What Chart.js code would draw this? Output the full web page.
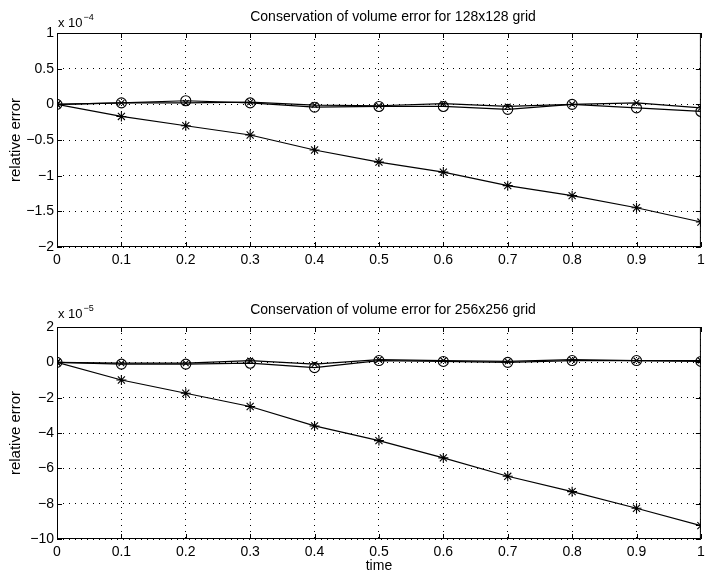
<!DOCTYPE html>
<html>
<head>
<meta charset="utf-8">
<script src="https://cdn.jsdelivr.net/npm/chart.js@4/dist/chart.umd.min.js"></script>
<style>
  html, body { margin: 0; padding: 0; background: #fff; }
  .wrap { position: relative; width: 707px; }
  canvas { display: block; }
</style>
</head>
<body>
<div class="wrap" style="height:287px"><canvas id="topChart"></canvas></div>
<div class="wrap" style="height:288px"><canvas id="bottomChart"></canvas></div>
<script>
// time samples
const times = [0, 0.1, 0.2, 0.3, 0.4, 0.5, 0.6, 0.7, 0.8, 0.9, 1.0];

// 128x128 grid, values in units of 1e-4
const starTop   = [0, -0.17, -0.30, -0.43, -0.64, -0.81, -0.95, -1.14, -1.28, -1.45, -1.65];
const circleTop = [0, 0.02, 0.05, 0.02, -0.04, -0.03, -0.03, -0.07, 0.00, -0.05, -0.10];
const crossTop  = [0, 0.02, 0.02, 0.03, -0.01, -0.02, 0.01, -0.03, 0.00, 0.02, -0.05];

// 256x256 grid, values in units of 1e-5
const starBottom   = [0, -1.0, -1.75, -2.5, -3.6, -4.43, -5.41, -6.45, -7.32, -8.26, -9.24];
const circleBottom = [0, -0.1, -0.1, -0.05, -0.3, 0.1, 0.05, 0.0, 0.1, 0.1, 0.05];
const crossBottom  = [0, -0.05, -0.05, 0.1, -0.1, 0.15, 0.1, 0.05, 0.15, 0.1, 0.1];

const FONT = '"Liberation Sans", Arial, Helvetica, sans-serif';

function pts(ys) {
    return times.map((t, i) => ({ x: t, y: ys[i] }));
}

function series(ys, style, radius) {
    return {
        data: pts(ys),
        borderColor: '#000',
        backgroundColor: 'rgba(0,0,0,0)',
        borderWidth: 1.2,
        pointStyle: style,
        pointRadius: radius,
        pointBorderColor: '#000',
        pointBorderWidth: 1.1,
        pointBackgroundColor: 'rgba(0,0,0,0)',
        tension: 0
    };
}

// matlab style frame, inward ticks, title and exponent label
const matlabDecor = {
    id: 'matlabDecor',
    afterDraw(chart, args, opts) {
        const ctx = chart.ctx;
        const a = chart.chartArea;
        const xs = chart.scales.x, ys = chart.scales.y;
        ctx.save();
        ctx.strokeStyle = '#000';
        ctx.lineWidth = 1;
        ctx.strokeRect(a.left + 0.5, a.top + 0.5, a.right - a.left - 1, a.bottom - a.top - 1);
        ctx.beginPath();
        xs.ticks.forEach(t => {
            const px = Math.round(xs.getPixelForValue(t.value)) + 0.5;
            ctx.moveTo(px, a.bottom); ctx.lineTo(px, a.bottom - 5);
            ctx.moveTo(px, a.top); ctx.lineTo(px, a.top + 5);
        });
        ys.ticks.forEach(t => {
            const py = Math.round(ys.getPixelForValue(t.value)) + 0.5;
            ctx.moveTo(a.left, py); ctx.lineTo(a.left + 5, py);
            ctx.moveTo(a.right, py); ctx.lineTo(a.right - 5, py);
        });
        ctx.stroke();

        ctx.fillStyle = '#000';
        ctx.font = '14px ' + FONT;
        ctx.textAlign = 'center';
        ctx.textBaseline = 'middle';
        ctx.fillText(opts.title, 393, opts.titleY);

        ctx.textAlign = 'left';
        ctx.textBaseline = 'alphabetic';
        ctx.font = '13px ' + FONT;
        ctx.fillText('x 10', a.left + 1, opts.expY);
        const w = ctx.measureText('x 10').width;
        ctx.font = '9px ' + FONT;
        ctx.fillText('\u2212' + opts.exp, a.left + 1 + w + 1, opts.expY - 7);
        ctx.restore();
    }
};

function makeChart(id, datasets, yMin, yMax, yStep, decor, padTop, xHeight, xTitle) {
    return new Chart(document.getElementById(id).getContext('2d'), {
        type: 'line',
        data: { datasets: datasets },
        options: {
            responsive: true,
            maintainAspectRatio: false,
            animation: false,
            layout: { padding: { top: padTop, right: 1, left: 0, bottom: 0 } },
            plugins: {
                legend: { display: false },
                tooltip: { enabled: false },
                matlabDecor: decor
            },
            scales: {
                x: {
                    type: 'linear',
                    min: 0, max: 1,
                    border: { display: false, dash: [1, 5] },
                    grid: { color: '#000', lineWidth: 1, drawTicks: false },
                    ticks: {
                        stepSize: 0.1, color: '#000', padding: 5, maxRotation: 0,
                        font: { family: FONT, size: 14 },
                        callback: v => String(Math.round(v * 10) / 10)
                    },
                    title: {
                        display: !!xTitle, text: xTitle || '', color: '#000', padding: 0,
                        font: { family: FONT, size: 14 }
                    },
                    afterFit: s => { s.height = xHeight; s.paddingLeft = 0; s.paddingRight = 0; }
                },
                y: {
                    min: yMin, max: yMax,
                    border: { display: false, dash: [1, 5] },
                    grid: { color: '#000', lineWidth: 1, drawTicks: false },
                    ticks: {
                        stepSize: yStep, color: '#000', padding: 3,
                        font: { family: FONT, size: 14 },
                        callback: v => String(v).replace('-', '\u2212')
                    },
                    title: {
                        display: true, text: 'relative error', color: '#000',
                        padding: { top: 7, bottom: 0 },
                        font: { family: FONT, size: 15 }
                    },
                    afterFit: s => { s.width = 57; }
                }
            }
        },
        plugins: [matlabDecor]
    });
}

makeChart('topChart', [
    series(starTop, 'star', 5),
    series(circleTop, 'circle', 5),
    series(crossTop, 'crossRot', 4)
], -2, 1, 0.5, {
    title: 'Conservation of volume error for 128x128 grid', titleY: 17, exp: '4', expY: 27
}, 33, 40, null);

makeChart('bottomChart', [
    series(starBottom, 'star', 5),
    series(circleBottom, 'circle', 5),
    series(crossBottom, 'crossRot', 4)
], -10, 2, 2, {
    title: 'Conservation of volume error for 256x256 grid', titleY: 23, exp: '5', expY: 31
}, 40, 36, 'time');
</script>
</body>
</html>
